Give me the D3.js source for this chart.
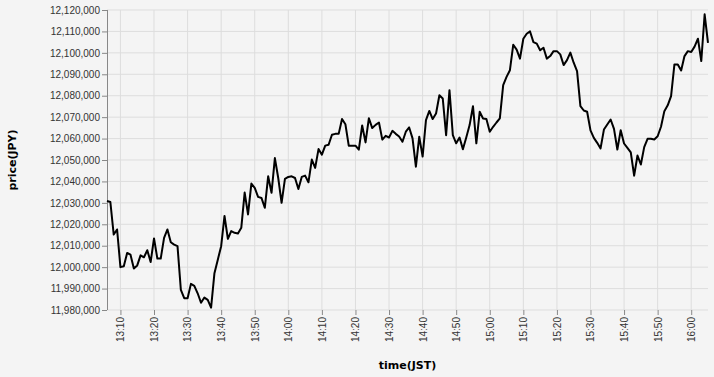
<!DOCTYPE html>
<html>
<head>
<meta charset="utf-8">
<script src="https://cdn.jsdelivr.net/npm/d3@7"></script>
<style>
  body { margin: 0; background: #f4f4f4; }
  svg { display: block; font-family: "DejaVu Sans", sans-serif; }
</style>
</head>
<body>
<div id="chart"></div>
<script>
// one price per minute, starting at 13:06 (JST)
const startTime = "13:06";
const prices = [
  12030900, 12030400, 12015200, 12017600,                                          // 13:06-13:09
  12000000, 12000400, 12006600, 12005800, 11999400, 12000800, 12005500, 12004600, 12007900, 12002400, // 13:10
  12013400, 12004000, 12004000, 12013700, 12017600, 12011600, 12010500, 12009800, 11989400, 11985500, // 13:20
  11985500, 11992200, 11991300, 11987800, 11983400, 11985800, 11984700, 11981100, 11997200, 12003500, // 13:30
  12009800, 12023900, 12013200, 12016800, 12016000, 12015700, 12018400, 12034800, 12024600, 12039000, // 13:40
  12037000, 12032800, 12032300, 12027700, 12042400, 12034700, 12050900, 12041600, 12030000, 12041200, // 13:50
  12042100, 12042400, 12041600, 12036500, 12042100, 12042700, 12039600, 12050200, 12046300, 12055100, // 14:00
  12052500, 12056700, 12057100, 12061800, 12062200, 12062200, 12069100, 12066700, 12056700, 12056700, // 14:10
  12056700, 12054800, 12066100, 12058200, 12069500, 12064900, 12066400, 12067500, 12059500, 12061300, // 14:20
  12060500, 12063600, 12062200, 12061000, 12058500, 12063200, 12065200, 12060100, 12046900, 12060900, // 14:30
  12051600, 12068600, 12072900, 12069100, 12071700, 12080200, 12078700, 12061600, 12082600, 12061600, // 14:40
  12057800, 12060500, 12055000, 12060500, 12066300, 12075100, 12057800, 12072500, 12069400, 12069100, // 14:50
  12063200, 12065500, 12067500, 12069400, 12084900, 12088800, 12091900, 12103800, 12101500, 12097300, // 15:00
  12106600, 12108900, 12110000, 12105000, 12104300, 12101200, 12102400, 12097300, 12098500, 12100800, // 15:10
  12100800, 12099300, 12094300, 12096600, 12100100, 12095400, 12091500, 12075100, 12073100, 12072500, // 15:20
  12063800, 12060300, 12058000, 12055400, 12064200, 12066600, 12068900, 12064500, 12054900, 12063900, // 15:30
  12057700, 12055700, 12053600, 12042700, 12052100, 12047900, 12056000, 12059900, 12059900, 12059600, // 15:40
  12061100, 12065500, 12072800, 12075500, 12079800, 12094600, 12094600, 12091800, 12098500, 12100800, // 15:50
  12100400, 12102900, 12106600, 12096200, 12118000, 12104700                                          // 16:00-16:05
];
const yTicks = [11980000, 11990000, 12000000, 12010000, 12020000, 12030000, 12040000,
  12050000, 12060000, 12070000, 12080000, 12090000, 12100000, 12110000, 12120000];
const xTickStep = 10; // minutes

const width = 714, height = 377;
const margin = { top: 10, right: 6, bottom: 67, left: 107 };
const innerW = width - margin.left - margin.right,
  innerH = height - margin.top - margin.bottom;

const parseTime = d3.timeParse("%H:%M");
const t0 = parseTime(startTime);
const data = prices.map((p, i) => ({ time: d3.timeMinute.offset(t0, i), price: p }));

const svg = d3.select("#chart").append("svg")
  .attr("width", width)
  .attr("height", height);

const g = svg.append("g")
  .attr("transform", `translate(${margin.left},${margin.top})`);

const x = d3.scaleTime()
  .domain(d3.extent(data, d => d.time))
  .range([0, innerW]);

const y = d3.scaleLinear()
  .domain([yTicks[0], yTicks[yTicks.length - 1]])
  .range([innerH, 0]);

// grid
g.append("g").selectAll("line")
  .data(yTicks)
  .enter().append("line")
  .attr("x1", 0).attr("x2", innerW)
  .attr("y1", d => y(d)).attr("y2", d => y(d))
  .style("stroke", "#dddddd");

const xTicks = x.ticks(d3.timeMinute.every(xTickStep));
g.append("g").selectAll("line")
  .data(xTicks)
  .enter().append("line")
  .attr("x1", d => x(d)).attr("x2", d => x(d))
  .attr("y1", 0).attr("y2", innerH)
  .style("stroke", "#dddddd");

// x axis
const xAxis = g.append("g")
  .attr("transform", `translate(0,${innerH})`)
  .call(d3.axisBottom(x).tickValues(xTicks).tickFormat(d3.timeFormat("%H:%M")).tickSize(5).tickPadding(2));
xAxis.select(".domain").remove();
xAxis.selectAll(".tick line").style("stroke", "#888");
xAxis.selectAll(".tick text")
  .attr("transform", "rotate(-90)")
  .attr("x", -7)
  .attr("y", 0)
  .attr("dy", "0.34em")
  .attr("text-anchor", "end")
  .style("font-size", "10px")
  .style("fill", "#333");

// y axis
const yAxis = g.append("g")
  .call(d3.axisLeft(y).tickValues(yTicks).tickFormat(d3.format(",")).tickSize(5).tickPadding(2));
yAxis.select(".domain").style("stroke", "#888").attr("d", `M0.5,0V${innerH}`);
yAxis.selectAll(".tick line").style("stroke", "#888");
yAxis.selectAll(".tick text")
  .style("font-size", "10px")
  .style("fill", "#333");

// line
const line = d3.line()
  .x(d => x(d.time))
  .y(d => y(d.price));

g.append("path")
  .datum(data)
  .attr("d", line)
  .attr("fill", "none")
  .style("stroke", "black")
  .style("stroke-width", "2px")
  .style("stroke-linejoin", "round");

// axis titles
svg.append("text")
  .attr("transform", `translate(16,${margin.top + innerH / 2}) rotate(-90)`)
  .attr("text-anchor", "middle")
  .style("font-size", "11px")
  .style("font-weight", "bold")
  .style("fill", "#000")
  .text("price(JPY)");

svg.append("text")
  .attr("x", margin.left + innerW / 2)
  .attr("y", 369)
  .attr("text-anchor", "middle")
  .style("font-size", "11px")
  .style("font-weight", "bold")
  .style("fill", "#000")
  .text("time(JST)");
</script>
</body>
</html>
